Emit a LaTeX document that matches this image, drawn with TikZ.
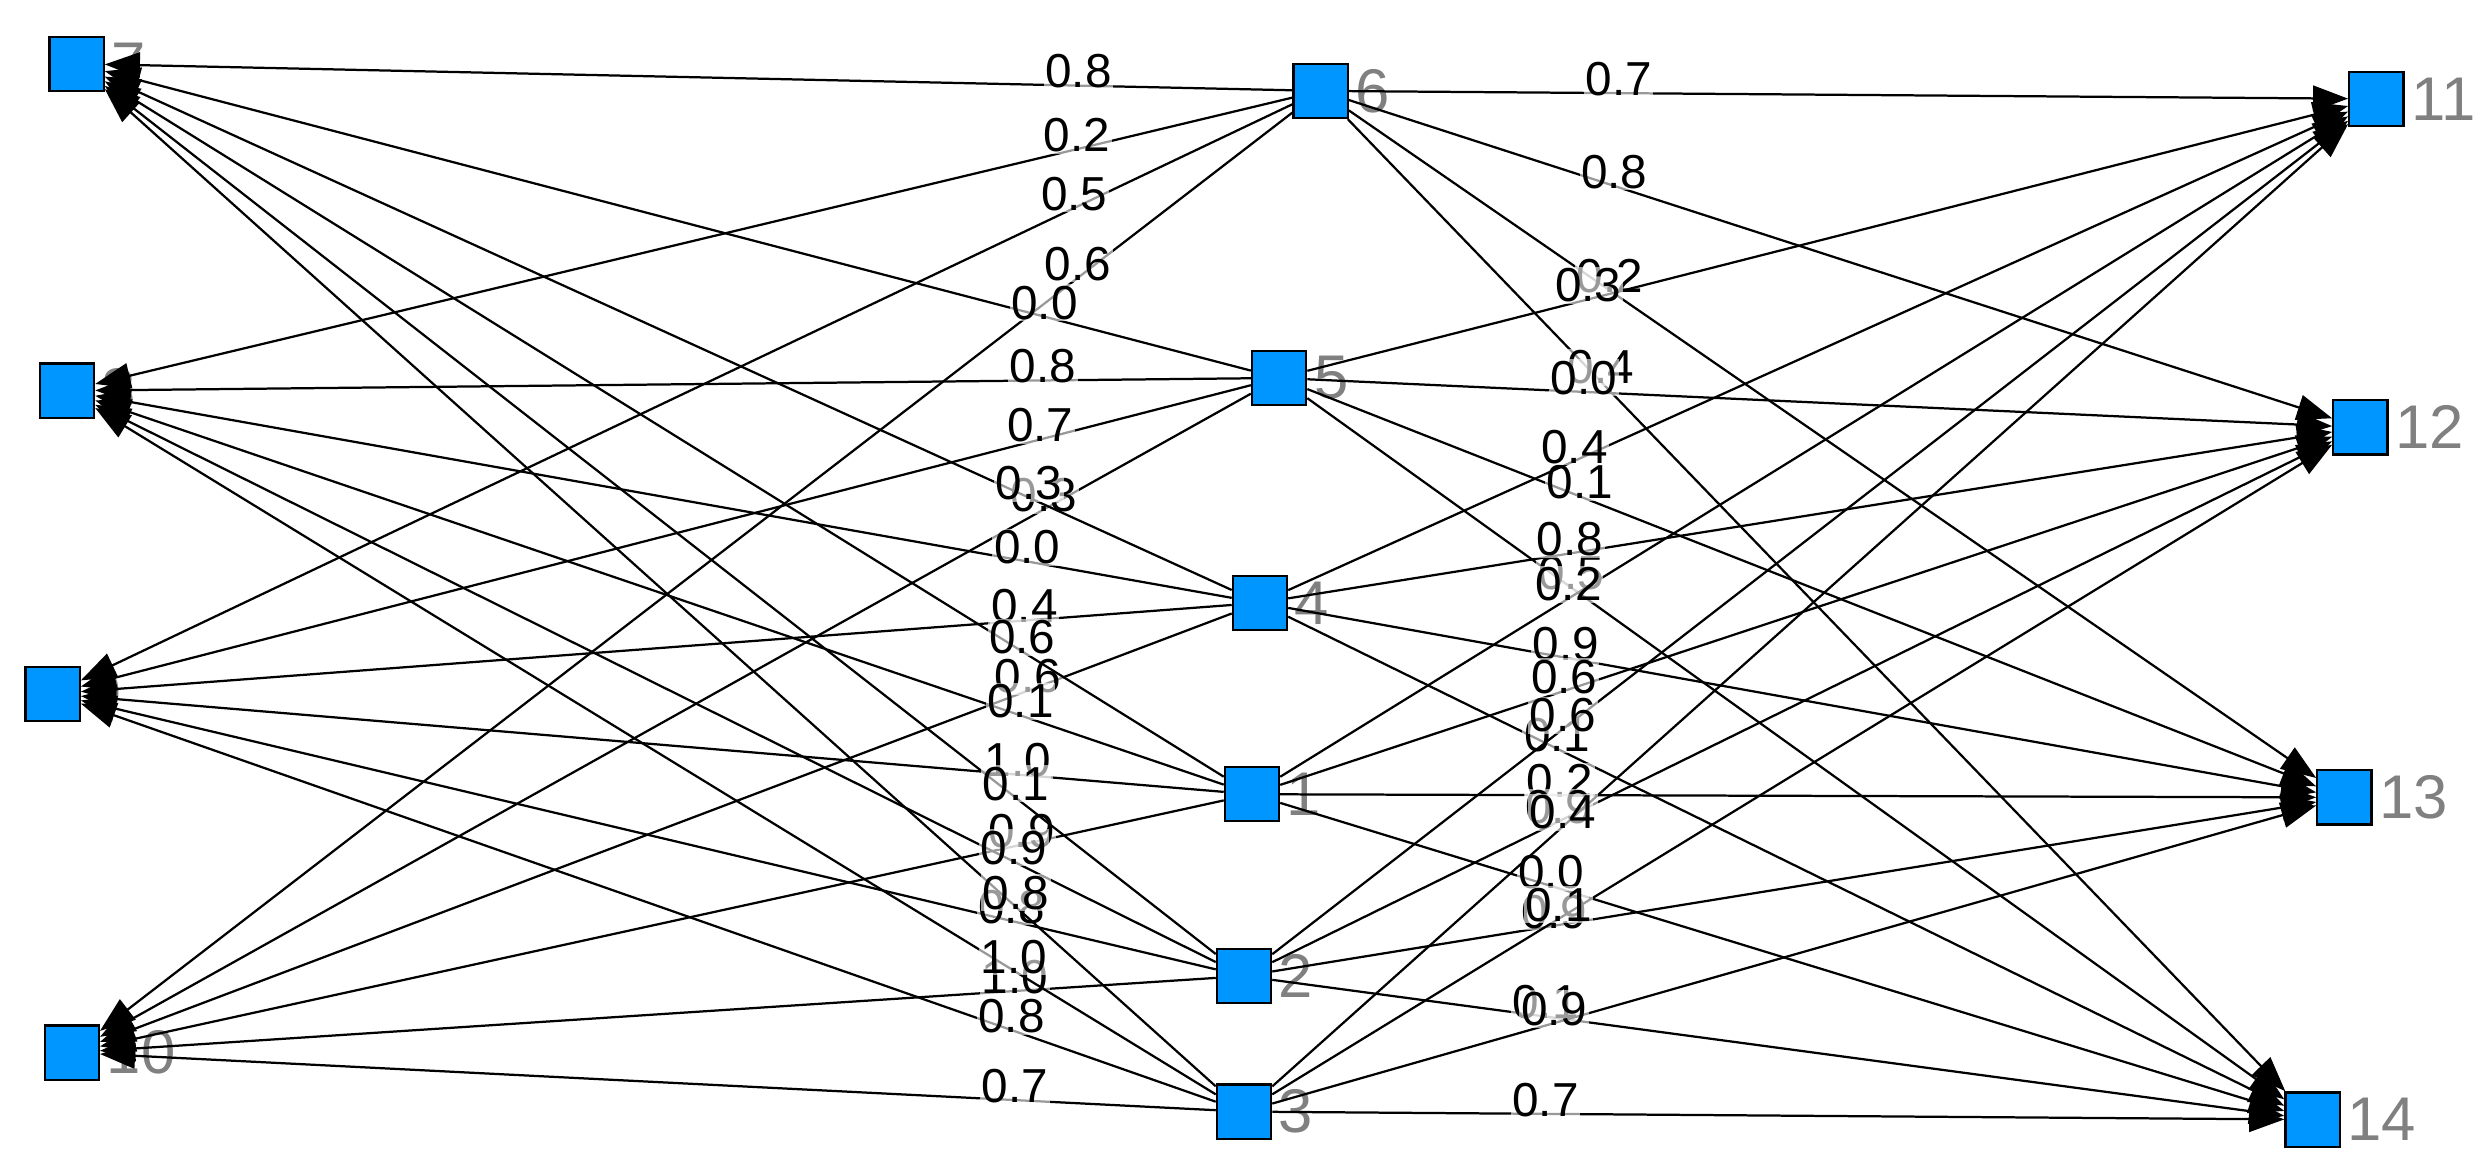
\documentclass[tikz,border=0pt]{standalone}
\usepackage{fontspec}
\setmainfont{Liberation Sans}
\usetikzlibrary{arrows.meta}
\definecolor{boxblue}{RGB}{0,150,255}
\tikzset{
  box/.style={draw=black,fill=boxblue,minimum size=3.4mm,inner sep=0pt,
    label={[gray,font=\fontsize{11}{11}\selectfont,inner sep=1pt]right:#1}},
  link/.style={-{Triangle[length=2.2mm,width=1.6mm]},line width=0.4pt},
  wt/.style={fill=white,fill opacity=0.6,text opacity=1,inner sep=0.3pt,
    above,yshift=-1pt,font=\fontsize{8.5}{9}\selectfont}
}
\begin{document}
\begin{tikzpicture}[x=0.01cm,y=-0.01cm]
\useasboundingbox (0,0) rectangle (1560,734);
% left layer
\node[box=7]  (n7)  at (48,40) {};
\node[box=8]  (n8)  at (42,245) {};
\node[box=9]  (n9)  at (33,435) {};
\node[box=10] (n10) at (45,660) {};
% middle layer
\node[box=6] (n6) at (828,57) {};
\node[box=5] (n5) at (802,237) {};
\node[box=4] (n4) at (790,378) {};
\node[box=1] (n1) at (785,498) {};
\node[box=2] (n2) at (780,612) {};
\node[box=3] (n3) at (780,697) {};
% right layer
\node[box=11] (n11) at (1490,62) {};
\node[box=12] (n12) at (1480,268) {};
\node[box=13] (n13) at (1470,500) {};
\node[box=14] (n14) at (1450,702) {};
% middle to left
\foreach \m/\l/\w in {6/7/0.8,6/8/0.2,6/9/0.5,6/10/0.6,
  5/7/0.0,5/8/0.8,5/9/0.7,5/10/0.3,
  4/7/0.3,4/8/0.0,4/9/0.4,4/10/0.6,
  1/7/0.6,1/8/0.1,1/9/1.0,1/10/0.9,
  2/7/0.1,2/8/0.9,2/9/0.8,2/10/1.0,
  3/7/0.8,3/8/1.0,3/9/0.8,3/10/0.7}
  \draw[link] (n\m) -- node[wt,pos=0.18] {\w} (n\l);
% middle to right
\foreach \m/\r/\w in {6/11/0.7,6/12/0.8,6/13/0.2,6/14/0.4,
  5/11/0.3,5/12/0.0,5/13/0.1,5/14/0.5,
  4/11/0.4,4/12/0.8,4/13/0.9,4/14/0.1,
  1/11/0.2,1/12/0.6,1/13/0.2,1/14/0.0,
  2/11/0.6,2/12/0.9,2/13/0.9,2/14/0.1,
  3/11/0.4,3/12/0.1,3/13/0.9,3/14/0.7}
  \draw[link] (n\m) -- node[wt,pos=0.27] {\w} (n\r);
\end{tikzpicture}
\end{document}
